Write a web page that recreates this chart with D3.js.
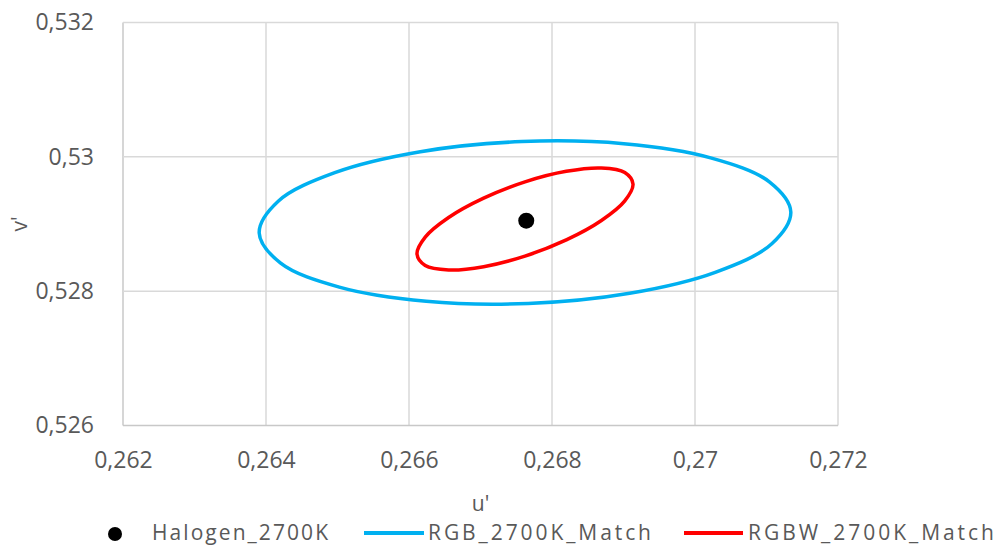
<!DOCTYPE html>
<html><head><meta charset="utf-8">
<script src="https://cdn.jsdelivr.net/npm/d3@7"></script>
<style>
html,body{margin:0;padding:0;background:#fff;}
text{font-family:"Open Sans",sans-serif;fill:#595959;}
</style></head>
<body><svg id="c" width="1000" height="547"></svg>
<script>
// ---- data ----
const seriesNames = ["Halogen_2700K", "RGB_2700K_Match", "RGBW_2700K_Match"];
const halogenU = [0.26764];
const halogenV = [0.52905];
const rgbU = [0.271340,0.271074,0.270283,0.269086,0.267667,0.266241,0.265025,0.264205,0.263905,0.264171,0.264962,0.266159,0.267578,0.269004,0.270219,0.271040];
const rgbV = [0.529179,0.528706,0.528281,0.527969,0.527817,0.527849,0.528060,0.528417,0.528866,0.529339,0.529764,0.530076,0.530227,0.530195,0.529985,0.529628];
const rgbwU = [0.269133,0.269018,0.268691,0.268200,0.267622,0.267044,0.266554,0.266227,0.266112,0.266227,0.266554,0.267044,0.267622,0.268200,0.268691,0.269018];
const rgbwV = [0.529595,0.529767,0.529833,0.529784,0.529627,0.529385,0.529097,0.528805,0.528554,0.528382,0.528316,0.528365,0.528522,0.528763,0.529052,0.529344];
const xTicks = [0.262,0.264,0.266,0.268,0.270,0.272];
const xTickLabels = ["0,262","0,264","0,266","0,268","0,27","0,272"];
const yTicks = [0.526,0.528,0.530,0.532];
const yTickLabels = ["0,526","0,528","0,53","0,532"];
const xTitle = "u'", yTitle = "v'";

// ---- layout ----
const svg = d3.select("#c");
const L = 123, R = 838, T = 22.5, B = 425.5;
const x = d3.scaleLinear().domain([0.262,0.272]).range([L,R]);
const y = d3.scaleLinear().domain([0.526,0.532]).range([B,T]);
const colors = {rgb:"#00B0F0", rgbw:"#FF0000", hal:"#000000"};

// grid
const g = svg.append("g");
g.selectAll("line.vx").data(xTicks).join("line")
  .attr("x1",d=>x(d)).attr("x2",d=>x(d)).attr("y1",T).attr("y2",B)
  .attr("stroke",(d,i)=>i===0?"#c8c8c8":"#d9d9d9").attr("stroke-width",1.5);
g.selectAll("line.hy").data(yTicks).join("line")
  .attr("y1",d=>y(d)).attr("y2",d=>y(d)).attr("x1",L).attr("x2",R)
  .attr("stroke",(d,i)=>i===0?"#c8c8c8":"#d9d9d9").attr("stroke-width",1.5);

// axes using d3 axis generators (labels only)
const xAxis = d3.axisBottom(x).tickValues(xTicks).tickFormat((d,i)=>xTickLabels[i]).tickSize(0).tickPadding(0);
const xa = svg.append("g").attr("transform",`translate(0,${B})`).call(xAxis);
xa.select(".domain").remove();
xa.selectAll("text").attr("font-size",23).attr("dy",null).attr("y",42).attr("fill","#595959").attr("font-family","Open Sans");

const yAxis = d3.axisLeft(y).tickValues(yTicks).tickFormat((d,i)=>yTickLabels[i]).tickSize(0).tickPadding(0);
const ya = svg.append("g").call(yAxis);
ya.select(".domain").remove();
ya.selectAll("g.tick").attr("transform",d=>`translate(${L-29},${y(d)})`);
ya.selectAll("text").attr("font-size",23).attr("x",0).attr("dy","0.34em").attr("fill","#595959").attr("font-family","Open Sans").attr("text-anchor","end");

// axis titles
svg.append("text").attr("x",(L+R)/2).attr("y",511).attr("text-anchor","middle").attr("font-size",21).text(xTitle);
svg.append("text").attr("transform",`translate(27,224) rotate(-90)`).attr("text-anchor","middle").attr("font-size",21).text(yTitle);

// ellipses
const line = d3.line().x(d=>x(d[0])).y(d=>y(d[1])).curve(d3.curveCatmullRomClosed.alpha(0.5));
const rgbPts = rgbU.map((u,i)=>[u,rgbV[i]]);
const rgbwPts = rgbwU.map((u,i)=>[u,rgbwV[i]]);
svg.append("path").attr("d",line(rgbPts)).attr("fill","none").attr("stroke",colors.rgb).attr("stroke-width",3.5);
svg.append("path").attr("d",line(rgbwPts)).attr("fill","none").attr("stroke",colors.rgbw).attr("stroke-width",3.5);

// halogen point
svg.selectAll("circle.hal").data(halogenU.map((u,i)=>[u,halogenV[i]])).join("circle")
  .attr("cx",d=>x(d[0])).attr("cy",d=>y(d[1])).attr("r",8).attr("fill",colors.hal);

// legend
const ly = 533, lb = 540;
const lg = svg.append("g");
lg.append("circle").attr("cx",115).attr("cy",ly+1).attr("r",7).attr("fill",colors.hal);
lg.append("text").attr("x",152).attr("y",lb).attr("font-size",21)
  .attr("textLength",176).attr("lengthAdjust","spacing").text(seriesNames[0]);
lg.append("line").attr("x1",364).attr("x2",424).attr("y1",ly).attr("y2",ly).attr("stroke",colors.rgb).attr("stroke-width",4);
lg.append("text").attr("x",428).attr("y",lb).attr("font-size",21)
  .attr("textLength",223).attr("lengthAdjust","spacing").text(seriesNames[1]);
lg.append("line").attr("x1",684).attr("x2",743).attr("y1",ly).attr("y2",ly).attr("stroke",colors.rgbw).attr("stroke-width",4);
lg.append("text").attr("x",748).attr("y",lb).attr("font-size",21)
  .attr("textLength",246).attr("lengthAdjust","spacing").text(seriesNames[2]);
</script>
</body></html>
